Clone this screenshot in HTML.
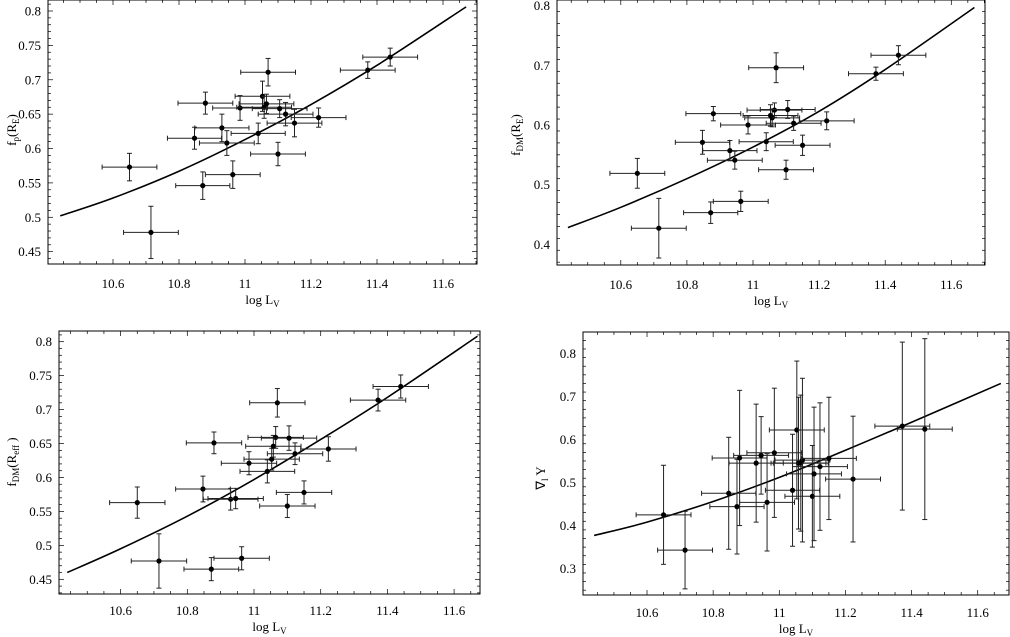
<!DOCTYPE html>
<html><head><meta charset="utf-8"><style>
html,body{margin:0;padding:0;background:#fff;}
svg{display:block;font-family:"Liberation Serif",serif;}
</style></head>
<body>
<svg id="fig" width="1010" height="637" viewBox="0 0 1010 637" xmlns="http://www.w3.org/2000/svg"></svg>
<script>
// shared x data (log L_V) and x errors
const xVals = [10.65,10.715,10.847,10.872,10.88,10.93,10.945,10.963,10.985,11.04,11.053,11.058,11.065,11.07,11.1,11.105,11.123,11.15,11.223,11.372,11.44];
const xErr  = [0.083,0.083,0.082,0.082,0.083,0.082,0.083,0.083,0.083,0.082,0.083,0.083,0.083,0.083,0.083,0.083,0.083,0.083,0.083,0.083,0.083];
// panel 1: f_p(R_E)
const p1Y   = [0.573,0.478,0.615,0.546,0.666,0.630,0.608,0.562,0.659,0.622,0.676,0.660,0.665,0.711,0.592,0.658,0.650,0.637,0.645,0.714,0.733];
const p1Err = [0.020,0.038,0.016,0.020,0.016,0.020,0.018,0.020,0.018,0.015,0.022,0.016,0.014,0.020,0.017,0.013,0.017,0.020,0.014,0.012,0.013];
// panel 2: f_DM(R_E)
const p2Y   = [0.519,0.427,0.571,0.453,0.619,0.557,0.541,0.472,0.600,0.572,0.616,0.612,0.625,0.696,0.525,0.626,0.603,0.566,0.607,0.686,0.717];
const p2Err = [0.025,0.050,0.020,0.018,0.012,0.017,0.015,0.017,0.015,0.015,0.018,0.015,0.012,0.025,0.016,0.015,0.012,0.017,0.015,0.011,0.016];
// panel 3: f_DM(R_eff)
const p3Y   = [0.563,0.477,0.583,0.465,0.651,0.568,0.569,0.481,0.621,0.609,0.627,0.646,0.659,0.710,0.558,0.658,0.635,0.578,0.642,0.714,0.734];
const p3Err = [0.023,0.040,0.019,0.017,0.016,0.016,0.015,0.017,0.017,0.017,0.016,0.016,0.016,0.021,0.017,0.018,0.016,0.017,0.018,0.016,0.017];
// panel 4: grad Y
const p4Y   = [0.425,0.343,0.475,0.444,0.557,0.545,0.563,0.454,0.569,0.482,0.622,0.545,0.545,0.552,0.468,0.520,0.537,0.556,0.508,0.631,0.624];
const p4Err = [0.115,0.090,0.130,0.110,0.157,0.137,0.090,0.113,0.150,0.130,0.160,0.153,0.158,0.190,0.118,0.155,0.148,0.142,0.146,0.195,0.210];
// model curves (sampled)
const curveX  = [10.44,10.6,10.8,11.0,11.2,11.4,11.67];
const curve1Y = [0.502,0.528,0.567,0.613,0.664,0.721,0.806];
const curve2Y = [0.428,0.462,0.510,0.563,0.623,0.693,0.797];
const curve3Y = [0.460,0.495,0.543,0.597,0.656,0.718,0.808];
const curve4Y = [0.377,0.408,0.456,0.512,0.575,0.640,0.730];
const xTicks = [10.6,10.8,11,11.2,11.4,11.6];
const yTicks1 = [0.45,0.5,0.55,0.6,0.65,0.7,0.75,0.8];
const yTicks2 = [0.4,0.5,0.6,0.7,0.8];
const yTicks4 = [0.3,0.4,0.5,0.6,0.7,0.8];

const NS="http://www.w3.org/2000/svg";
const fig=document.getElementById('fig');
function mk(tag,attrs,parent){const e=document.createElementNS(NS,tag);for(const k in attrs)e.setAttribute(k,attrs[k]);(parent||fig).appendChild(e);return e;}

function panel(cfg){
  const g=mk('g',{});
  
  
  const sx=v=>cfg.px0+(v-cfg.x0)*cfg.kx;
  const sy=v=>cfg.py0-(v-cfg.y0)*cfg.ky;
  const B=cfg.box;
  const frame=mk('rect',{x:B[0],y:B[1],width:B[2]-B[0],height:B[3]-B[1],fill:'none',stroke:'#000','stroke-width':1},g);
  
  
  for(let v=10.45;v<=11.701;v+=0.05){
    const X=sx(v); if(X<B[0]||X>B[2])continue;
    const major=Math.abs(Math.round(v*5)-v*5)<1e-6;
    const L=major?5:3;
    mk('line',{x1:X,x2:X,y1:B[3],y2:B[3]-L,stroke:'#000','stroke-width':0.7},g);
    mk('line',{x1:X,x2:X,y1:B[1],y2:B[1]+L,stroke:'#000','stroke-width':0.7},g);
  }
  xTicks.forEach(v=>{
    const t=mk('text',{x:sx(v),y:cfg.xLabY,'font-size':13,'text-anchor':'middle'},g);
    t.textContent=String(v);
    
    
  });
  for(let v=cfg.yMin;v<=cfg.yMax+1e-6;v+=cfg.yMinor){
    const Y=sy(v); if(Y<B[1]||Y>B[3])continue;
    const major=cfg.yTicks.some(t=>Math.abs(t-v)<1e-6);
    const L=major?5:3;
    mk('line',{x1:B[0],x2:B[0]+L,y1:Y,y2:Y,stroke:'#000','stroke-width':0.7},g);
    mk('line',{x1:B[2],x2:B[2]-L,y1:Y,y2:Y,stroke:'#000','stroke-width':0.7},g);
  }
  cfg.yTicks.forEach(v=>{
    const t=mk('text',{x:B[0]-7,y:sy(v)+4.5,'font-size':13,'text-anchor':'end'},g);
    t.textContent=String(v);
    
    
  });
  let d='';
  for(let i=0;i<curveX.length-1;i++){
    const x0=curveX[i],x1=curveX[i+1],y0=cfg.cy[i],y1=cfg.cy[i+1];
    const xm=i>0?curveX[i-1]:x0, ym=i>0?cfg.cy[i-1]:y0;
    const xp=i+2<curveX.length?curveX[i+2]:x1, yp=i+2<curveX.length?cfg.cy[i+2]:y1;
    if(i===0)d+='M'+sx(x0).toFixed(2)+','+sy(y0).toFixed(2);
    const c1x=sx(x0)+(sx(x1)-sx(xm))/6,c1y=sy(y0)+(sy(y1)-sy(ym))/6;
    const c2x=sx(x1)-(sx(xp)-sx(x0))/6,c2y=sy(y1)-(sy(yp)-sy(y0))/6;
    d+=' C'+c1x.toFixed(2)+','+c1y.toFixed(2)+' '+c2x.toFixed(2)+','+c2y.toFixed(2)+' '+sx(x1).toFixed(2)+','+sy(y1).toFixed(2);
  }
  const cp=mk('path',{d:d,fill:'none',stroke:'#000','stroke-width':1.6},g);
  
  
  xVals.forEach((xv,i)=>{
    const pg=mk('g',{},g);
    
    
    const X=sx(xv),Y=sy(cfg.y[i]);
    const xl=sx(xv-xErr[i]),xr=sx(xv+xErr[i]);
    const yt=sy(cfg.y[i]+cfg.e[i]),yb=sy(cfg.y[i]-cfg.e[i]);
    const st={stroke:'#222','stroke-width':1};
    mk('line',Object.assign({x1:xl,x2:xr,y1:Y,y2:Y},st),pg);
    mk('line',Object.assign({x1:xl,x2:xl,y1:Y-2.5,y2:Y+2.5},st),pg);
    mk('line',Object.assign({x1:xr,x2:xr,y1:Y-2.5,y2:Y+2.5},st),pg);
    mk('line',Object.assign({x1:X,x2:X,y1:yt,y2:yb},st),pg);
    mk('line',Object.assign({x1:X-2.5,x2:X+2.5,y1:yt,y2:yt},st),pg);
    mk('line',Object.assign({x1:X-2.5,x2:X+2.5,y1:yb,y2:yb},st),pg);
    mk('circle',{cx:X,cy:Y,r:2.6,fill:'#000'},pg);
  });
  const xt=mk('text',{x:(B[0]+B[2])/2,y:cfg.xTitleY,'font-size':13,'text-anchor':'middle'},g);
  xt.innerHTML='log  L<tspan font-size="9" dy="3">V</tspan>';
  
  
  const yt=mk('text',{x:0,y:0,'font-size':13,'text-anchor':'middle',transform:'translate('+cfg.yTitle[0]+','+cfg.yTitle[1]+') rotate(-90)'},g);
  yt.innerHTML=cfg.yTitleHtml;
  
  
}

panel({name:'panel-fp-re',box:[48,0,477,264],px0:245,x0:11,kx:330,py0:11,y0:0.8,ky:687.6,
  yMin:0.44,yMax:0.81,yMinor:0.01,yTicks:yTicks1,y:p1Y,e:p1Err,cy:curve1Y,xLabY:288,xTitleY:304,
  yTitle:[16,130],yTitleHtml:'f<tspan font-size="9" dy="3">p</tspan><tspan dy="-3">(R</tspan><tspan font-size="9" dy="3">E</tspan><tspan dy="-3">)</tspan>'});
panel({name:'panel-fdm-re',box:[557,0,985,265],px0:753,x0:11,kx:330.5,py0:5.7,y0:0.8,ky:596.5,
  yMin:0.37,yMax:0.81,yMinor:0.02,yTicks:yTicks2,y:p2Y,e:p2Err,cy:curve2Y,xLabY:289,xTitleY:305,
  yTitle:[520,135],yTitleHtml:'f<tspan font-size="9" dy="3">DM</tspan><tspan dy="-3">(R</tspan><tspan font-size="9" dy="3">E</tspan><tspan dy="-3">)</tspan>'});
panel({name:'panel-fdm-reff',box:[59,331,480,594],px0:254,x0:11,kx:333.5,py0:341.7,y0:0.8,ky:678.9,
  yMin:0.43,yMax:0.81,yMinor:0.01,yTicks:yTicks1,y:p3Y,e:p3Err,cy:curve3Y,xLabY:615,xTitleY:631,
  yTitle:[16,462],yTitleHtml:'f<tspan font-size="9" dy="3">DM</tspan><tspan dy="-3">(R</tspan><tspan font-size="9" dy="3">eff</tspan><tspan dy="-3"> )</tspan>'});
panel({name:'panel-grad-y',box:[583,332,1009,595],px0:779.3,x0:11,kx:330.7,py0:353.3,y0:0.8,ky:430.7,
  yMin:0.25,yMax:0.85,yMinor:0.02,yTicks:yTicks4,y:p4Y,e:p4Err,cy:curve4Y,xLabY:617,xTitleY:633,
  yTitle:[545,478],yTitleHtml:'∇<tspan font-size="9" dy="3">l</tspan><tspan dy="-3"> Y</tspan>'});
</script>
</body></html>
